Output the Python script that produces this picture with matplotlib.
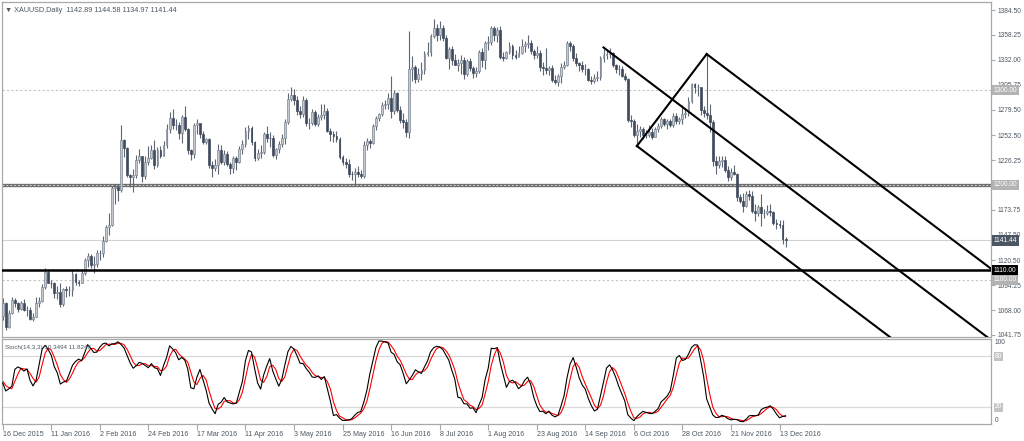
import matplotlib
matplotlib.use("Agg")
import matplotlib.pyplot as plt
import numpy as np
import pandas as pd

# XAUUSD daily bars, bar 0 = 16 Dec 2015, last bar = 15 Dec 2016
first_open = 1062.0
closes = [
    1075, 1050, 1065, 1079, 1075, 1069, 1075, 1068, 1068, 1059,
    1061, 1075, 1078, 1092, 1108, 1097, 1096, 1086, 1087, 1074,
    1090, 1089, 1089, 1106, 1098, 1097, 1107, 1121, 1125, 1115,
    1117, 1128, 1128, 1141, 1156, 1158, 1197, 1198, 1195, 1247,
    1239, 1210, 1208, 1210, 1226, 1230, 1209, 1224, 1228, 1237,
    1221, 1237, 1231, 1242, 1259, 1271, 1263, 1263, 1255, 1272,
    1259, 1237, 1233, 1263, 1265, 1254, 1245, 1248, 1221, 1218,
    1221, 1237, 1224, 1233, 1222, 1218, 1228, 1224, 1238, 1243,
    1257, 1260, 1245, 1228, 1234, 1235, 1254, 1250, 1249, 1232,
    1238, 1243, 1249, 1266, 1291, 1295, 1290, 1278, 1275, 1290,
    1265, 1265, 1277, 1264, 1272, 1274, 1278, 1257, 1254, 1252,
    1248, 1229, 1224, 1222, 1212, 1211, 1214, 1212, 1209, 1242,
    1246, 1244, 1262, 1271, 1275, 1284, 1285, 1292, 1278, 1297,
    1279, 1268, 1266, 1256, 1322, 1324, 1312, 1317, 1321, 1338,
    1340, 1357, 1366, 1358, 1366, 1355, 1334, 1343, 1332, 1327,
    1329, 1332, 1317, 1331, 1323, 1318, 1320, 1340, 1332, 1350,
    1351, 1366, 1358, 1363, 1335, 1334, 1340, 1347, 1337, 1335,
    1339, 1347, 1349, 1350, 1341, 1337, 1339, 1324, 1323, 1321,
    1323, 1311, 1309, 1315, 1324, 1327, 1350, 1346, 1334, 1329,
    1327, 1322, 1322, 1311, 1310, 1313, 1314, 1334, 1337, 1338,
    1339, 1327, 1322, 1322, 1315, 1312, 1268, 1267, 1253, 1257,
    1259, 1253, 1253, 1256, 1251, 1259, 1262, 1269, 1264, 1267,
    1263, 1273, 1267, 1269, 1275, 1276, 1289, 1306, 1303, 1303,
    1279, 1276, 1274, 1266, 1225, 1221, 1225, 1226, 1216, 1208,
    1214, 1212, 1187, 1183, 1178, 1190, 1188, 1172, 1170, 1177,
    1170, 1170, 1173, 1171, 1160, 1159, 1158, 1142.89, 1141.44,
]
highs = [
    1081, 1077, 1068, 1082, 1081, 1077, 1078, 1080, 1072, 1071,
    1065, 1082, 1082, 1095, 1112, 1110, 1100, 1098, 1093, 1096,
    1091, 1093, 1093, 1110, 1107, 1100, 1111, 1123, 1128, 1127,
    1125, 1131, 1131, 1146, 1158, 1170, 1199, 1201, 1201, 1263,
    1248, 1240, 1212, 1217, 1232, 1238, 1229, 1230, 1241, 1242,
    1247, 1240, 1241, 1246, 1264, 1277, 1280, 1269, 1266, 1274,
    1283, 1260, 1238, 1265, 1270, 1259, 1257, 1250, 1249, 1225,
    1227, 1243, 1242, 1237, 1236, 1224, 1231, 1231, 1241, 1247,
    1261, 1263, 1262, 1246, 1238, 1242, 1256, 1262, 1256, 1253,
    1239, 1246, 1254, 1269, 1297, 1303, 1301, 1294, 1283, 1294,
    1292, 1271, 1280, 1279, 1275, 1285, 1285, 1281, 1260, 1257,
    1257, 1251, 1232, 1228, 1227, 1215, 1218, 1220, 1216, 1246,
    1249, 1248, 1264, 1273, 1276, 1287, 1290, 1297, 1315, 1300,
    1298, 1283, 1276, 1270, 1362, 1336, 1327, 1323, 1330, 1341,
    1351, 1359, 1375, 1370, 1373, 1369, 1358, 1345, 1347, 1338,
    1333, 1337, 1335, 1333, 1334, 1325, 1324, 1342, 1344, 1352,
    1357, 1368, 1368, 1367, 1368, 1340, 1341, 1351, 1349, 1342,
    1346, 1354, 1352, 1358, 1353, 1343, 1346, 1342, 1330, 1344,
    1325, 1327, 1316, 1317, 1329, 1331, 1352, 1352, 1349, 1339,
    1330, 1331, 1328, 1323, 1315, 1317, 1320, 1336, 1343, 1342,
    1344, 1340, 1328, 1326, 1325, 1318, 1313, 1274, 1270, 1264,
    1262, 1261, 1258, 1263, 1260, 1261, 1265, 1272, 1271, 1269,
    1270, 1276, 1276, 1272, 1284, 1280, 1293, 1308, 1308, 1306,
    1301, 1283, 1338, 1285, 1268, 1231, 1230, 1231, 1230, 1220,
    1218, 1221, 1213, 1190, 1191, 1194, 1195, 1194, 1180, 1179,
    1190, 1175, 1179, 1180, 1173, 1164, 1163, 1163, 1144.58,
]
lows = [
    1058, 1047, 1049, 1064, 1071, 1066, 1068, 1067, 1062, 1058,
    1056, 1061, 1071, 1076, 1090, 1096, 1091, 1081, 1080, 1071,
    1072, 1082, 1083, 1083, 1094, 1093, 1096, 1105, 1113, 1112,
    1107, 1113, 1121, 1124, 1140, 1147, 1157, 1180, 1183, 1193,
    1229, 1208, 1198, 1193, 1207, 1223, 1203, 1206, 1221, 1227,
    1217, 1219, 1228, 1230, 1239, 1255, 1259, 1258, 1248, 1244,
    1257, 1233, 1226, 1228, 1254, 1250, 1243, 1243, 1218, 1208,
    1215, 1212, 1222, 1221, 1220, 1211, 1213, 1216, 1223, 1233,
    1240, 1248, 1242, 1225, 1226, 1228, 1233, 1245, 1240, 1229,
    1227, 1234, 1240, 1243, 1264, 1288, 1284, 1274, 1271, 1272,
    1262, 1259, 1263, 1262, 1262, 1268, 1270, 1256, 1246, 1245,
    1245, 1227, 1221, 1218, 1208, 1205, 1199, 1208, 1207, 1207,
    1237, 1239, 1243, 1258, 1267, 1273, 1280, 1280, 1271, 1275,
    1277, 1265, 1260, 1251, 1250, 1310, 1308, 1309, 1311, 1317,
    1336, 1336, 1355, 1352, 1353, 1352, 1333, 1322, 1326, 1326,
    1320, 1317, 1312, 1315, 1320, 1313, 1314, 1318, 1324, 1322,
    1342, 1348, 1352, 1351, 1333, 1331, 1333, 1338, 1333, 1333,
    1336, 1338, 1340, 1344, 1338, 1333, 1334, 1320, 1316, 1317,
    1316, 1309, 1306, 1304, 1308, 1322, 1325, 1341, 1331, 1325,
    1320, 1319, 1316, 1310, 1306, 1307, 1310, 1311, 1330, 1333,
    1334, 1324, 1318, 1316, 1314, 1310, 1266, 1261, 1251, 1241,
    1251, 1248, 1250, 1251, 1248, 1251, 1256, 1260, 1262, 1259,
    1261, 1261, 1264, 1264, 1264, 1271, 1273, 1286, 1297, 1294,
    1274, 1272, 1269, 1256, 1220, 1211, 1218, 1219, 1214, 1204,
    1205, 1210, 1183, 1181, 1171, 1177, 1184, 1170, 1162, 1167,
    1157, 1165, 1168, 1167, 1158, 1154, 1155, 1138, 1134.97,
]

# bars before 16 Dec 2015 (off screen), needed to warm up the stochastic
pre_closes = [1068, 1077, 1076, 1067, 1073, 1071, 1070, 1056, 1064, 1068,
              1053, 1062, 1085, 1075, 1075, 1076, 1071, 1075, 1062, 1062]
pre_highs = [1075, 1082, 1085, 1077, 1078, 1077, 1073, 1072, 1068, 1072,
             1070, 1064, 1088, 1085, 1079, 1080, 1078, 1078, 1076, 1068]
pre_lows = [1063, 1066, 1072, 1061, 1062, 1067, 1067, 1052, 1053, 1060,
            1052, 1046, 1059, 1072, 1070, 1072, 1068, 1066, 1059, 1052]

date_labels = ["16 Dec 2015", "11 Jan 2016", "2 Feb 2016", "24 Feb 2016",
               "17 Mar 2016", "11 Apr 2016", "3 May 2016", "25 May 2016",
               "16 Jun 2016", "8 Jul 2016", "1 Aug 2016", "23 Aug 2016",
               "14 Sep 2016", "6 Oct 2016", "28 Oct 2016", "21 Nov 2016",
               "13 Dec 2016"]
date_bars = [0, 16, 32, 48, 64, 80, 96, 112, 128, 144, 160, 176, 192,
             208, 224, 240, 256]

price_ticks = [1384.50, 1358.25, 1332.00, 1305.75, 1279.50, 1252.50, 1226.25,
               1200.00, 1173.75, 1147.50, 1120.50, 1094.25, 1068.00, 1041.75]

# channel drawn on the chart: anchor points (bar, price) and slope per bar
channel_top = (198, 1345)
channel_low = (209, 1241)
channel_high = (232, 1338)
channel_slope = -2.416

txt = '#4d5863'
grid_gray = '#a9a9a9'

c_all = np.array(pre_closes + closes, dtype=float)
h_all = np.array(pre_highs + highs, dtype=float)
l_all = np.array(pre_lows + lows, dtype=float)
o_all = np.concatenate([[pre_closes[0]], c_all[:-1]])
o_all[len(pre_closes)] = first_open
x_all = np.arange(len(c_all)) - len(pre_closes)

# stochastic 14,3,3 (MT4 style slowing)
hh = pd.Series(h_all).rolling(14).max()
ll = pd.Series(l_all).rolling(14).min()
cs = pd.Series(c_all)
k_line = 100 * (cs - ll).rolling(3).sum() / (hh - ll).rolling(3).sum()
d_line = k_line.rolling(3).mean()

W, H = 1024, 441
fig = plt.figure(figsize=(W / 100, H / 100), dpi=100)
plt.rcParams['font.family'] = ['Liberation Sans', 'DejaVu Sans']

ax = fig.add_axes([2 / W, 1 - 337 / H, 989 / W, 335 / H])
ax2 = fig.add_axes([2 / W, 1 - 424 / H, 989 / W, 85 / H])

xmin, xmax = -0.23, 325.7
ymax = 1384.5 + 8 / 0.948
ymin = 1384.5 - 327 / 0.948

# candles
up = c_all >= o_all
ax.vlines(x_all, l_all, h_all, color='#5d6673', lw=0.8, zorder=2)
ax.bar(x_all[up], (c_all - o_all)[up], bottom=o_all[up], width=0.62,
       color='#c4c9d1', edgecolor='#7d8693', lw=0.5, zorder=3)
ax.bar(x_all[~up], (o_all - c_all)[~up], bottom=c_all[~up], width=0.62,
       color='#3f4b5d', edgecolor='#3f4b5d', lw=0.5, zorder=3)

# horizontal levels
ax.axhline(1300, color='#c4c4c4', lw=0.8, ls=(0, (2, 2)), zorder=1)
ax.axhline(1200, color='#6e6e6e', lw=2.4, zorder=1)
ax.axhline(1200, color='#d6d6d6', lw=0.7, ls=(0, (2, 2)), zorder=1)
ax.axhline(1141.44, color='#d2d2d2', lw=0.8, zorder=1)
ax.axhline(1110, color='black', lw=1.8, zorder=4)
ax.axhline(1100, color='#c4c4c4', lw=0.8, ls=(0, (2, 2)), zorder=1)

# channel lines
for bar0, p0 in [channel_top, channel_low, channel_high]:
    xs = np.array([bar0, xmax + 5])
    ax.plot(xs, p0 + channel_slope * (xs - bar0), color='black', lw=1.5, zorder=5)
ax.plot([channel_low[0], channel_high[0]], [channel_low[1], channel_high[1]],
        color='black', lw=1.5, zorder=5)

ax.set_xlim(xmin, xmax)
ax.set_ylim(ymin, ymax)
ax.set_xticks([])
ax.yaxis.tick_right()
ax.set_yticks(price_ticks)
# 1200.00 sits under its own level box
ax.set_yticklabels(['' if v == 1200 else '%.2f' % v for v in price_ticks])
ax.tick_params(axis='y', length=3, width=0.8, color=grid_gray, labelsize=4.8,
               labelcolor=txt, pad=2)
for s in ax.spines.values():
    s.set_color(grid_gray)
    s.set_linewidth(0.9)

# price labels on the right axis
boxes = [(1300.00, '#b3b3b3', 'white'), (1200.00, '#b3b3b3', 'white'),
         (1141.44, '#4b5563', 'white'), (1110.00, 'black', 'white'),
         (1100.00, '#b3b3b3', 'white')]
for val, bg, fg in boxes:
    ax.text(1.0025, val, '%.2f' % val, transform=ax.get_yaxis_transform(),
            ha='left', va='center', fontsize=4.8, color=fg, clip_on=False, zorder=10,
            bbox=dict(boxstyle='square,pad=0.25', fc=bg, ec='none'))

ax.text(0.003, 0.985, '\u25bc XAUUSD,Daily  1142.89 1144.58 1134.97 1141.44',
        transform=ax.transAxes, ha='left', va='top', fontsize=5.2, color=txt,
        family=['Liberation Sans', 'DejaVu Sans'])

# stochastic panel
ax2.plot(x_all, k_line, color='black', lw=0.8, zorder=3)
ax2.plot(x_all, d_line, color='red', lw=0.8, zorder=2)
ax2.axhline(80, color='#d9d9d9', lw=0.9, zorder=1)
ax2.axhline(20, color='#d9d9d9', lw=0.9, zorder=1)
ax2.set_xlim(xmin, xmax)
ax2.set_ylim(0, 100)
ax2.set_yticks([])
ax2.set_xticks(date_bars)
ax2.set_xticklabels(date_labels)
for lab in ax2.get_xticklabels():
    lab.set_horizontalalignment('left')
ax2.tick_params(axis='x', length=4, width=0.8, color=grid_gray, labelsize=5.1,
                labelcolor=txt, pad=1)
for s in ax2.spines.values():
    s.set_color(grid_gray)
    s.set_linewidth(0.9)
ax2.text(0.003, 0.93, 'Stoch(14,3,3) 10.3494 11.8248', transform=ax2.transAxes,
         ha='left', va='top', fontsize=4.5, color=txt)
for val, va in [(100, 'top'), (0, 'bottom')]:
    ax2.text(1.004, val, str(val), transform=ax2.get_yaxis_transform(),
             ha='left', va=va, fontsize=4.8, color=txt, clip_on=False)
for val in [80, 20]:
    ax2.text(1.004, val, str(val), transform=ax2.get_yaxis_transform(),
             ha='left', va='center', fontsize=4.8, color='white', clip_on=False,
             bbox=dict(boxstyle='square,pad=0.15', fc='#c4c4c4', ec='none'))

fig.savefig('out.png', dpi=100, facecolor='white')
